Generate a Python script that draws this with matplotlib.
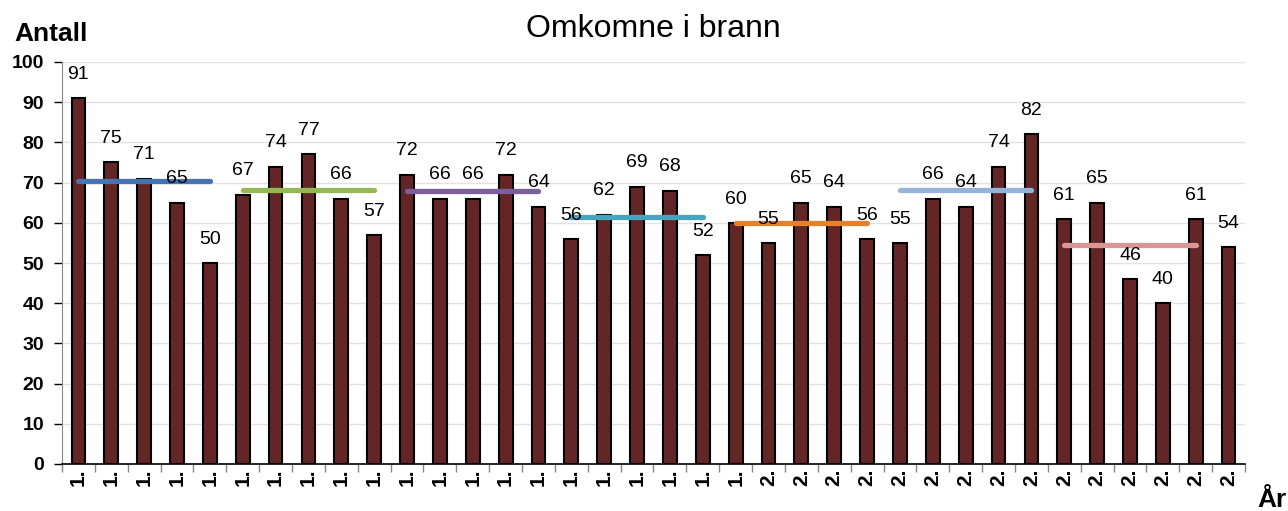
import matplotlib
matplotlib.use('Agg')
import matplotlib.pyplot as plt
from matplotlib.ticker import MultipleLocator

plt.rcParams['font.family'] = ['Liberation Sans', 'DejaVu Sans']

# tallene
antall = [91, 75, 71, 65, 50, 67, 74, 77, 66, 57,
          72, 66, 66, 72, 64, 56, 62, 69, 68, 52,
          60, 55, 65, 64, 56, 55, 66, 64, 74, 82,
          61, 65, 46, 40, 61, 54]
etiketter = ['1.'] * 21 + ['2.'] * 15
# femårs gjennomsnitt (start-indeks, slutt-indeks, verdi)
snitt_start = [0, 5, 10, 15, 20, 25, 30]
snitt_slutt = [4, 9, 14, 19, 24, 29, 34]
snitt_verdi = [70.4, 68.2, 68.0, 61.4, 60.0, 68.2, 54.6]
snitt_farger = ['#4673B1', '#94B853', '#7B5E9E', '#45A5BE', '#E2812E', '#95B3D7', '#D99694']

fig = plt.figure(figsize=(12.88, 5.11), dpi=100)
ax = fig.add_axes([62/1288, 1 - 464/511, (1245-62)/1288, (464-62)/511])

x = list(range(len(antall)))
ax.bar(x, antall, width=0.42, color='#632526', edgecolor='black', linewidth=1.5, zorder=2)

for s, e, v, c in zip(snitt_start, snitt_slutt, snitt_verdi, snitt_farger):
    ax.plot([s, e], [v, v], color=c, lw=3.8, solid_capstyle='round', zorder=3)

for xi, v in zip(x, antall):
    ax.annotate(str(v), (xi, v), xytext=(0, 11), textcoords='offset points',
                ha='center', va='bottom', fontsize=14, zorder=4)

ax.set_xlim(-0.5, len(antall) - 0.5)
ax.set_ylim(0, 100)
ax.yaxis.set_major_locator(MultipleLocator(10))
ax.grid(axis='y', color='#e2e2e2', lw=1, zorder=0)
ax.set_axisbelow(True)

ax.set_xticks(x)
ax.set_xticklabels(etiketter, rotation=90, fontsize=15, fontweight='bold', va='top', ha='center')
ax.set_xticks([i - 0.5 for i in range(len(antall) + 1)], minor=True)
ax.tick_params(axis='x', which='major', length=0, pad=3)
ax.tick_params(axis='x', which='minor', length=6, color='#888888', width=1)
ax.tick_params(axis='y', length=6, width=1, color='black', labelsize=14, pad=7)
for lab in ax.get_yticklabels():
    lab.set_fontweight('bold')

ax.spines['top'].set_visible(False)
ax.spines['right'].set_visible(False)
ax.spines['left'].set_color('#888888')
ax.spines['bottom'].set_color('black')
ax.spines['bottom'].set_linewidth(1.2)

fig.text(653/1288, 1 - 37/511, 'Omkomne i brann', ha='center', va='baseline', fontsize=23)
fig.text(14/1288, 1 - 41/511, 'Antall', ha='left', va='baseline', fontsize=19, fontweight='bold')
fig.text(1257/1288, 1 - 507/511, 'År', ha='left', va='baseline', fontsize=19, fontweight='bold')

fig.savefig('out.png', dpi=100)
